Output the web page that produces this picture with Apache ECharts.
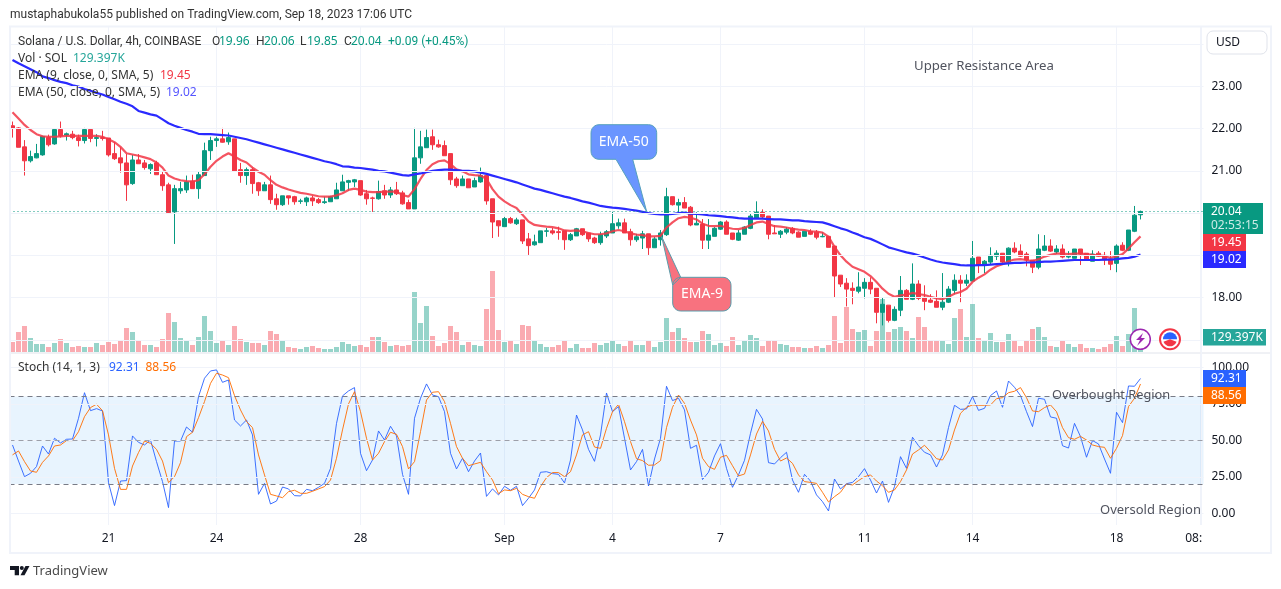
<!DOCTYPE html>
<html lang="en">
<head>
    <meta charset="UTF-8">
    <title>Solana / U.S. Dollar, 4h, COINBASE</title>
    <script src="https://cdn.jsdelivr.net/npm/echarts@6/dist/echarts.min.js"></script>
    <style>
        html, body { margin: 0; padding: 0; background: #fff; }
        #chart { width: 1281px; height: 589px; }
    </style>
</head>
<body>
    <div id="chart"></div>

    <script>
        // 4h candles
        const opens = [22.07,22.02,21.57,21.24,21.31,21.38,21.79,21.64,21.98,21.85,21.87,21.79,21.72,21.98,21.77,21.79,21.78,21.41,21.31,21.19,20.70,21.26,21.19,21.05,21.19,20.91,20.67,20.03,20.53,20.55,20.76,20.58,20.89,21.48,21.72,21.76,21.69,21.76,21.03,20.89,21.03,20.72,20.53,20.67,20.34,20.20,20.41,20.39,20.28,20.27,20.36,20.32,20.25,20.27,20.34,20.53,20.73,20.74,20.77,20.46,20.36,20.34,20.53,20.43,20.55,20.48,20.25,20.10,21.31,21.55,21.81,21.62,21.60,21.41,20.81,20.65,20.81,20.62,20.74,20.89,20.34,19.82,19.68,19.87,19.75,19.84,19.39,19.25,19.30,19.57,19.58,19.56,19.58,19.37,19.46,19.63,19.53,19.41,19.30,19.46,19.53,19.70,19.77,19.56,19.37,19.41,19.51,19.18,19.37,19.49,20.39,20.19,20.25,20.14,19.72,19.74,19.36,19.45,19.62,19.79,19.53,19.36,19.50,19.64,19.88,20.02,19.93,19.53,19.50,19.55,19.64,19.55,19.45,19.57,19.55,19.44,19.45,19.22,18.53,18.34,18.22,18.15,18.22,18.36,18.22,17.65,17.82,17.46,17.70,18.17,17.96,18.32,18.01,17.94,17.91,17.77,17.89,18.17,18.41,18.34,18.39,18.96,18.77,18.84,18.98,19.05,18.84,19.17,19.10,19.03,18.89,18.72,19.12,19.22,19.08,19.15,18.96,18.93,19.15,19.05,18.86,19.05,19.00,18.91,18.81,19.24,19.12,19.57,19.96];
        const closes = [22.01,21.56,21.24,21.34,21.41,21.82,21.62,21.98,21.83,21.88,21.79,21.72,21.98,21.77,21.79,21.77,21.38,21.29,21.19,20.67,21.26,21.17,21.08,21.15,20.91,20.65,20.01,20.58,20.58,20.74,20.58,20.91,21.48,21.72,21.76,21.68,21.79,21.00,20.89,21.03,20.70,20.53,20.67,20.32,20.20,20.41,20.36,20.27,20.29,20.36,20.29,20.25,20.27,20.39,20.55,20.74,20.77,20.79,20.43,20.34,20.35,20.51,20.43,20.55,20.46,20.22,20.10,21.31,21.57,21.79,21.62,21.57,21.36,20.79,20.65,20.81,20.60,20.77,20.89,20.29,19.79,19.70,19.87,19.77,19.84,19.34,19.23,19.32,19.58,19.58,19.53,19.54,19.37,19.49,19.63,19.49,19.39,19.30,19.49,19.56,19.75,19.77,19.53,19.37,19.44,19.51,19.18,19.39,19.53,20.39,20.20,20.25,20.12,19.72,19.76,19.36,19.48,19.64,19.79,19.50,19.38,19.53,19.67,19.93,20.02,19.91,19.50,19.51,19.57,19.62,19.53,19.43,19.57,19.50,19.43,19.45,19.19,18.51,18.32,18.20,18.17,18.25,18.36,18.20,17.65,17.84,17.46,17.72,18.17,17.96,18.32,17.98,17.91,17.89,17.77,17.89,18.20,18.41,18.34,18.41,18.93,18.77,18.86,19.00,19.05,18.84,19.17,19.08,18.98,18.89,18.72,19.15,19.22,19.10,19.15,18.96,18.98,19.15,19.03,18.89,19.03,18.98,18.89,18.79,19.22,19.12,19.60,19.95,20.04];
        const lows = [21.79,21.56,20.89,21.20,21.30,21.36,21.58,21.62,21.79,21.72,21.75,21.58,21.65,21.68,21.58,21.72,21.34,21.26,20.96,20.29,20.67,21.17,21.03,20.93,20.91,20.53,19.98,19.27,20.46,20.48,20.58,20.34,20.89,21.26,21.57,21.67,21.62,21.00,20.72,20.67,20.46,20.41,20.53,20.22,20.08,20.17,20.20,20.20,20.22,20.17,20.17,20.22,20.22,20.27,20.34,20.53,20.53,20.62,20.41,20.20,20.03,20.32,20.34,20.36,20.43,20.20,20.10,20.10,21.17,21.55,21.50,21.55,21.36,20.67,20.60,20.65,20.60,20.62,20.72,20.20,19.41,19.44,19.68,19.75,19.72,19.27,19.01,19.23,19.30,19.44,19.49,19.37,19.13,19.34,19.46,19.46,19.32,19.27,19.25,19.41,19.53,19.63,19.53,19.23,19.32,19.15,19.01,19.18,19.23,19.46,20.18,19.98,20.12,19.69,19.72,19.15,19.15,19.45,19.60,19.50,19.36,19.34,19.50,19.62,19.88,19.88,19.38,19.51,19.41,19.50,19.50,19.43,19.45,19.48,19.38,19.43,19.19,18.01,18.25,17.79,17.84,18.10,17.98,18.08,17.39,17.34,17.41,17.44,17.56,17.96,17.94,17.94,17.70,17.87,17.77,17.70,17.87,18.08,17.89,18.27,18.39,18.58,18.58,18.77,18.89,18.77,18.74,19.05,18.96,18.74,18.58,18.67,19.10,19.08,19.03,18.93,18.93,18.93,18.77,18.89,18.86,18.96,18.77,18.65,18.60,19.10,19.10,19.55,19.85];
        const highs = [22.17,22.04,21.73,21.48,21.64,21.83,21.86,21.98,22.17,21.91,21.95,21.86,22.02,21.98,21.87,21.95,21.78,21.68,21.56,21.40,21.38,21.40,21.26,21.18,21.24,21.00,20.72,20.67,20.74,20.89,20.91,20.98,21.67,21.81,21.81,22.02,21.91,21.76,21.19,21.08,21.08,20.74,20.74,20.89,20.46,20.41,20.41,20.41,20.34,20.39,20.41,20.36,20.39,20.41,20.72,20.91,20.79,20.81,20.77,20.55,20.39,20.77,20.67,20.62,20.74,20.53,20.32,22.02,21.95,21.98,21.98,21.74,21.72,21.41,20.86,20.89,20.81,20.84,21.08,20.89,20.34,19.82,19.91,19.91,19.89,19.84,19.53,19.49,19.58,19.65,19.65,19.68,19.58,19.53,19.65,19.63,19.53,19.44,19.56,19.60,20.03,19.87,19.87,19.63,19.51,19.58,19.51,19.44,19.60,20.60,20.39,20.34,20.38,20.17,20.02,19.86,19.86,19.67,19.81,19.83,19.53,19.60,19.69,20.00,20.28,20.09,19.93,19.72,19.60,19.67,19.67,19.57,19.57,19.62,19.60,19.55,19.45,19.22,18.53,18.46,18.36,18.60,18.46,18.48,18.22,18.01,17.82,17.79,18.51,18.20,18.81,18.41,18.29,18.08,18.17,18.58,18.27,18.55,18.53,18.55,19.34,18.96,18.89,19.19,19.12,19.05,19.19,19.31,19.26,19.08,18.89,19.50,19.48,19.38,19.24,19.26,19.10,19.15,19.15,19.05,19.12,19.10,19.08,19.10,19.26,19.31,19.60,20.17,20.06];

        const ema9 = [22.39,22.24,22.09,21.97,21.87,21.82,21.81,21.81,21.82,21.83,21.83,21.83,21.83,21.83,21.83,21.81,21.75,21.68,21.57,21.42,21.39,21.36,21.32,21.28,21.20,21.08,20.89,20.82,20.78,20.76,20.75,20.78,20.92,21.10,21.24,21.34,21.42,21.34,21.26,21.20,21.08,20.98,20.91,20.78,20.67,20.61,20.56,20.52,20.48,20.46,20.43,20.40,20.39,20.39,20.42,20.47,20.55,20.58,20.55,20.51,20.50,20.50,20.51,20.51,20.51,20.43,20.39,20.57,20.81,21.02,21.16,21.23,21.25,21.16,21.04,20.99,20.92,20.90,20.89,20.81,20.57,20.39,20.28,20.19,20.12,19.96,19.80,19.72,19.70,19.68,19.67,19.64,19.59,19.58,19.59,19.57,19.53,19.50,19.50,19.52,19.57,19.60,19.57,19.52,19.49,19.48,19.45,19.45,19.46,19.66,19.78,19.88,19.91,19.89,19.85,19.75,19.70,19.69,19.70,19.66,19.63,19.62,19.65,19.72,19.78,19.80,19.74,19.69,19.68,19.66,19.63,19.61,19.60,19.57,19.56,19.54,19.44,19.20,19.00,18.85,18.73,18.67,18.61,18.51,18.37,18.21,18.09,18.02,18.05,18.07,18.11,18.08,18.06,18.02,17.98,17.96,18.02,18.09,18.13,18.21,18.37,18.47,18.55,18.66,18.74,18.79,18.86,18.90,18.91,18.89,18.86,18.91,18.97,19.01,19.04,19.04,19.03,19.04,19.04,19.03,19.01,19.00,18.98,18.94,18.98,19.03,19.16,19.31,19.45];
        const ema50 = [23.63,23.55,23.48,23.41,23.34,23.24,23.20,23.15,23.11,23.08,23.03,23.00,22.94,22.90,22.85,22.81,22.75,22.70,22.64,22.59,22.53,22.42,22.38,22.34,22.31,22.22,22.13,22.07,22.02,21.97,21.93,21.88,21.87,21.87,21.86,21.85,21.84,21.81,21.78,21.75,21.71,21.67,21.63,21.59,21.55,21.51,21.47,21.43,21.39,21.35,21.31,21.27,21.23,21.20,21.16,21.11,21.10,21.08,21.07,21.05,21.03,21.00,20.99,20.96,20.93,20.90,20.89,20.92,20.94,20.97,21.00,21.02,21.03,21.03,21.02,21.00,21.00,20.99,20.96,20.93,20.89,20.85,20.81,20.77,20.73,20.68,20.63,20.58,20.55,20.51,20.47,20.43,20.39,20.36,20.32,20.28,20.25,20.21,20.17,20.15,20.13,20.12,20.10,20.08,20.06,20.03,20.00,19.98,19.97,19.97,19.98,20.00,20.01,19.99,19.98,19.97,19.95,19.94,19.93,19.91,19.90,19.88,19.87,19.87,19.87,19.87,19.86,19.85,19.85,19.84,19.83,19.83,19.81,19.80,19.79,19.78,19.74,19.69,19.64,19.60,19.54,19.49,19.43,19.39,19.33,19.26,19.19,19.15,19.11,19.07,19.04,19.00,18.95,18.90,18.86,18.83,18.81,18.79,18.77,18.76,18.76,18.77,18.77,18.78,18.79,18.80,18.81,18.82,18.82,18.83,18.83,18.84,18.85,18.85,18.86,18.87,18.88,18.89,18.89,18.89,18.89,18.89,18.90,18.90,18.91,18.93,18.94,18.97,19.02];

        // volume in thousands of SOL
        const volumes = [500,1000,1300,700,400,400,250,450,650,450,250,300,250,250,450,350,500,400,550,1200,1000,600,350,350,250,650,1950,1500,700,600,350,750,1800,1050,450,600,350,1300,650,500,450,450,350,1050,900,550,250,200,150,250,300,200,150,150,250,500,400,300,350,250,750,750,500,300,350,300,350,3000,1450,2300,800,300,450,1300,1000,350,500,350,300,2150,4050,1100,500,550,400,1350,1300,600,400,250,250,350,550,200,400,200,200,450,350,450,600,400,300,550,350,350,550,250,500,1700,1000,1200,700,500,500,1050,900,350,450,300,750,350,600,850,700,300,600,550,400,350,250,250,200,200,300,200,350,1800,450,2250,1150,1000,1100,300,1050,2650,1000,1150,1250,1050,700,1750,1250,550,550,600,400,1700,2150,750,2400,700,600,950,500,500,900,600,300,600,1150,1250,750,300,250,600,400,250,400,200,200,150,250,400,800,300,900,2200,129.397];

        // stochastic %K and %D
        const stochK = [46.8,35.8,25.1,27.4,32.0,46.1,40.6,51.4,48.2,50.7,50.9,65.1,82.6,70.3,71.7,70.1,21.0,5.3,22.1,22.4,53.0,48.6,46.8,50.2,35.4,21.7,3.9,49.5,49.5,59.1,55.5,79.9,92.5,97.5,98.2,89.7,91.3,63.9,59.8,63.9,53.7,13.0,20.5,6.4,8.4,18.0,16.7,12.1,11.9,16.4,15.5,17.8,20.5,30.8,61.6,80.4,83.8,86.1,41.1,29.2,36.5,56.4,50.2,59.6,53.0,26.7,13.0,65.1,78.8,88.6,81.0,79.9,69.6,41.1,30.4,37.7,28.5,35.8,41.3,11.6,16.7,12.6,18.5,15.8,18.5,5.3,10.3,16.0,28.1,28.5,27.2,26.7,20.8,36.5,67.3,57.1,43.8,35.6,53.7,82.4,69.6,73.1,51.4,29.7,35.4,43.8,18.7,37.2,51.4,87.0,77.2,78.8,70.8,44.5,46.6,23.1,28.1,39.3,47.7,30.8,17.8,26.3,36.3,54.8,71.2,64.6,34.7,33.8,38.1,41.8,22.8,14.4,26.7,22.1,12.6,8.0,1.6,23.5,16.7,20.3,21.2,25.1,30.6,22.8,13.9,22.1,7.5,18.3,38.8,30.8,52.1,46.3,41.8,40.0,31.7,40.0,58.7,74.0,71.2,71.5,79.9,70.5,71.9,80.6,83.8,72.6,90.6,86.3,80.6,69.6,59.4,78.8,78.1,66.0,65.1,46.3,44.7,61.6,52.5,38.4,49.8,47.5,37.2,27.4,69.2,62.1,87.2,87.0,92.31];
        const stochD = [40.0,42.7,35.4,29.0,28.1,34.9,39.3,46.1,46.8,49.8,49.8,55.9,66.2,72.4,74.7,70.3,53.7,30.8,16.4,16.4,32.4,41.6,49.5,47.9,43.8,35.8,21.0,25.1,34.7,52.5,55.5,65.5,76.5,89.0,95.9,94.7,92.9,80.6,70.8,62.8,58.7,40.0,26.3,13.0,11.9,10.7,14.8,15.8,13.7,13.7,15.1,16.7,18.3,22.8,37.7,57.1,74.9,83.3,69.6,51.4,36.5,41.1,49.1,55.5,54.1,45.7,30.4,35.4,55.9,77.6,82.9,83.3,76.5,61.6,45.7,37.7,32.6,33.8,34.9,28.5,22.8,13.5,16.0,15.5,17.1,13.0,11.4,10.3,18.3,24.4,27.9,27.9,25.1,28.5,40.0,53.7,55.9,45.4,44.5,58.2,69.6,74.7,62.8,49.1,37.4,36.1,32.9,33.1,36.1,58.7,72.6,81.0,75.3,63.9,53.7,37.7,32.0,30.1,38.4,39.7,32.6,25.6,26.9,40.0,54.3,63.0,56.4,43.8,35.8,37.9,34.2,26.3,21.7,21.2,20.5,14.4,7.8,11.4,14.4,20.1,19.4,22.4,25.1,26.3,22.1,18.9,14.4,16.0,21.7,29.7,40.6,43.4,46.6,42.2,37.4,36.5,43.4,57.1,68.5,72.6,74.2,74.0,74.0,74.2,78.5,79.2,82.6,83.6,86.1,79.2,70.1,69.6,72.4,74.2,69.6,58.7,51.8,50.7,52.7,50.2,46.8,45.7,45.2,37.7,44.5,53.2,73.1,78.8,88.56];

        // time axis: label text at each bar slot (slots run past the last candle)
        const slotCount = 199;
        const tickSlots = [16, 34, 58, 82, 100, 118, 142, 160, 184, 198];
        const tickTexts = ['21', '24', '28', 'Sep', '4', '7', '11', '14', '18', '08:00'];
        const priceTicks = [17, 18, 19, 20, 21, 22, 23, 24];
        const stochTicks = [0, 25, 50, 75, 100];

        const FONT = '"Noto Sans", sans-serif';
        const NARROW = '12px Roboto, sans-serif';
        const GREEN = '#089981', RED = '#f23645', GRID = '#f0f3fa';
        const categories = Array.from({ length: slotCount }, (_, i) => {
            const k = tickSlots.indexOf(i);
            return k >= 0 ? tickTexts[k] : '';
        });
        const isTick = i => tickSlots.includes(i);

        function label(x, y, text, color, size, extra) {
            return Object.assign({
                type: 'text', x, y, z: 20,
                style: Object.assign({ text, fill: color, font: (size || 12) + 'px ' + FONT, verticalAlign: 'middle' }, extra || {})
            });
        }

        function tag(x, y, w, h, color, lines) {
            const items = [{ type: 'rect', z: 15, shape: { x, y, width: w, height: h }, style: { fill: color } }];
            lines.forEach((t, i) => items.push(label(x + 8, y + 8.5 + i * 14.5, t[0], t[1] || '#fff', 12)));
            return items;
        }

        // rounded box with a pointed tail, as one outline
        function callout(x, y, w, h, r, tail, fill, stroke) {
            const pts = [];
            const corner = (cx, cy, a0) => {
                for (let k = 0; k <= 6; k++) {
                    const a = a0 + k / 6 * Math.PI / 2;
                    pts.push([cx + r * Math.cos(a), cy + r * Math.sin(a)]);
                }
            };
            corner(x + r, y + r, Math.PI);
            if (tail.side === 'top') tail.pts.forEach(p => pts.push(p));
            corner(x + w - r, y + r, -Math.PI / 2);
            corner(x + w - r, y + h - r, 0);
            if (tail.side === 'bottom') tail.pts.forEach(p => pts.push(p));
            corner(x + r, y + h - r, Math.PI / 2);
            return { type: 'polygon', z: 12, shape: { points: pts }, style: { fill, stroke, lineWidth: 1 } };
        }

        const frameParts = [
            { type: 'rect', z: 2, shape: { x: 1202, y: 526, width: 68, height: 26 }, style: { fill: '#fff' } },
            { type: 'line', z: 3, shape: { x1: 10, y1: 353, x2: 1271, y2: 353 }, style: { stroke: '#e0e3eb', lineWidth: 1 } },
            { type: 'line', z: 3, shape: { x1: 1201.5, y1: 27, x2: 1201.5, y2: 525 }, style: { stroke: GRID, lineWidth: 1 } },
            { type: 'rect', z: 9, shape: { x: 10, y: 26.5, width: 1261, height: 526.5 }, style: { fill: 'none', stroke: GRID, lineWidth: 2 } }
        ];

        const roboto = { font: NARROW };
        const legendParts = [
            label(10, 15, 'mustaphabukola55 published on TradingView.com, Sep 18, 2023 17:06 UTC', '#333', 12, roboto),
            label(18, 42, 'Solana / U.S. Dollar, 4h, COINBASE', '#333', 12, roboto),
            label(212, 42, 'O', '#333', 12, roboto), label(219, 42, '19.96', GREEN),
            label(256, 42, 'H', '#333', 12, roboto), label(264, 42, '20.06', GREEN),
            label(300, 42, 'L', '#333', 12, roboto), label(307, 42, '19.85', GREEN),
            label(344, 42, 'C', '#333', 12, roboto), label(351, 42, '20.04', GREEN),
            label(388, 42, '+0.09 (+0.45%)', GREEN, 12, roboto),
            label(18, 59, 'Vol · SOL', '#333'), label(73, 59, '129.397K', '#26a69a'),
            label(18, 76, 'EMA (9, close, 0, SMA, 5)', '#333'), label(160, 76, '19.45', RED),
            label(18, 92.5, 'EMA (50, close, 0, SMA, 5)', '#333'), label(166, 92.5, '19.02', '#5555ff'),
            label(18, 367.5, 'Stoch (14, 1, 3)', '#333'), label(109, 367.5, '92.31', '#2962ff'), label(145.5, 367.5, '88.56', '#ff6d00'),
            label(914, 66, 'Upper Resistance Area', '#50535e', 13.2),
            label(1052, 395, 'Overbought Region', '#50535e', 12.8),
            label(1100, 510, 'Oversold Region', '#50535e', 13)
        ];

        const calloutParts = [
            callout(591, 124.7, 65.7, 34.6, 8, { side: 'bottom', pts: [[632.7, 159.3], [646.7, 211.7], [616, 159.3]] }, '#6a95ff', '#55a0bd'),
            label(623.8, 142, 'EMA-50', '#fff', 14, { align: 'center' }),
            callout(672.7, 277.3, 58.3, 33.7, 8, { side: 'top', pts: [[672.7, 285], [661.7, 236.7], [680.7, 277.3]] }, '#f8727f', '#5a9cab'),
            label(702, 294, 'EMA-9', '#fff', 14, { align: 'center' })
        ];

        const axisParts = [
            { type: 'rect', z: 14, shape: { x: 1207, y: 31, width: 60, height: 23, r: 6 }, style: { fill: '#fff', stroke: '#e0e3eb', lineWidth: 1 } },
            label(1216, 43, 'USD', '#131722')
        ].concat(
            tag(1203, 203, 60, 31, GREEN, [['20.04'], ['02:53:15', 'rgba(255,255,255,.8)']]),
            tag(1203, 234, 43, 17, RED, [['19.45']]),
            tag(1203, 251, 43, 17, '#2a2aff', [['19.02']]),
            tag(1203, 329, 63, 16.5, '#26a69a', [['129.397K']]),
            tag(1203, 370, 43, 17, '#2962ff', [['92.31']]),
            tag(1203, 387, 43, 17, '#ff6d00', [['88.56']])
        );

        const iconParts = [
            { type: 'circle', z: 13, shape: { cx: 1140.3, cy: 339.3, r: 10 }, style: { fill: '#fff', stroke: '#9c27b0', lineWidth: 1.5 } },
            { type: 'polygon', z: 14, shape: { points: [[1143, 333], [1136, 340], [1140, 340], [1137, 346], [1145, 338], [1141, 338]] }, style: { fill: '#9c27b0' } },
            { type: 'circle', z: 13, shape: { cx: 1170, cy: 339.3, r: 10 }, style: { fill: '#fff', stroke: RED, lineWidth: 2 } },
            { type: 'sector', z: 14, shape: { cx: 1170, cy: 339.3, r: 7, r0: 0, startAngle: Math.PI, endAngle: 2 * Math.PI }, style: { fill: '#2962ff' } },
            { type: 'sector', z: 14, shape: { cx: 1170, cy: 339.3, r: 7, r0: 0, startAngle: 0.35, endAngle: Math.PI - 0.35 }, style: { fill: RED } }
        ];

        const logoParts = [
            { type: 'polygon', z: 20, shape: { points: [[10, 566], [19, 566], [19, 575.3], [14.7, 575.3], [14.7, 570], [10, 570]] }, style: { fill: '#131722' } },
            { type: 'circle', z: 20, shape: { cx: 21.8, cy: 568, r: 2 }, style: { fill: '#131722' } },
            { type: 'polygon', z: 20, shape: { points: [[25.5, 566], [29.5, 566], [24.5, 575.3], [20.5, 575.3]] }, style: { fill: '#131722' } },
            label(33, 571, 'TradingView', '#4a4a4a', 13)
        ];

        function timeAxis(gridIndex, showLabel) {
            return {
                type: 'category', gridIndex, data: categories, z: 1,
                axisLine: { show: false }, axisTick: { show: false },
                axisLabel: {
                    show: showLabel, interval: (i) => isTick(i), margin: 8,
                    color: '#131722', fontFamily: FONT, fontSize: 12, hideOverlap: false
                },
                splitLine: { show: showLabel !== null, interval: (i) => isTick(i), alignWithLabel: true, lineStyle: { color: GRID } }
            };
        }

        function valueLabels(ticks) {
            return {
                customValues: ticks, margin: 8, color: '#131722', fontFamily: FONT, fontSize: 12,
                formatter: v => v.toFixed(2)
            };
        }

        const option = {
            animation: false,
            backgroundColor: '#fff',
            grid: [
                { left: 9.5, right: 77.5, top: 27, height: 325 },
                { left: 9.5, right: 77.5, top: 27, height: 325 },
                { left: 9.5, right: 77.5, top: 354, height: 171 }
            ],
            xAxis: [timeAxis(0, false), timeAxis(1, false), timeAxis(2, true)],
            yAxis: [
                {
                    type: 'value', gridIndex: 0, position: 'right', min: 16.71, max: 24.41, z: 5,
                    axisLine: { show: false }, axisTick: { show: false, customValues: priceTicks },
                    axisLabel: valueLabels(priceTicks),
                    splitLine: { show: true, lineStyle: { color: GRID } }
                },
                { type: 'value', gridIndex: 1, min: 0, max: 16250, show: false },
                {
                    type: 'value', gridIndex: 2, position: 'right', min: -8, max: 109.1, z: 5,
                    axisLine: { show: false }, axisTick: { show: false, customValues: stochTicks },
                    axisLabel: valueLabels(stochTicks),
                    splitLine: { show: true, lineStyle: { color: GRID } }
                }
            ],
            series: [
                {
                    name: 'Vol', type: 'bar', xAxisIndex: 1, yAxisIndex: 1, z: 1, barWidth: 5, data: volumes,
                    itemStyle: { color: p => closes[p.dataIndex] >= opens[p.dataIndex] ? 'rgba(8,153,129,.42)' : 'rgba(242,54,69,.42)' }
                },
                {
                    name: 'SOLUSD', type: 'candlestick', xAxisIndex: 0, yAxisIndex: 0, z: 3, barWidth: 4,
                    data: opens.map((o, i) => [o, closes[i], lows[i], highs[i]]),
                    itemStyle: { color: GREEN, color0: RED, borderColor: GREEN, borderColor0: RED, borderWidth: 1 },
                    markLine: {
                        silent: true, symbol: 'none', label: { show: false },
                        lineStyle: { color: GREEN, type: [1, 3], width: 1, opacity: 1 }, data: [{ yAxis: closes[closes.length - 1] }]
                    }
                },
                {
                    name: 'EMA 9', type: 'line', xAxisIndex: 0, yAxisIndex: 0, z: 4, data: ema9, symbol: 'none',
                    lineStyle: { color: RED, width: 2.2, opacity: 0.85 }
                },
                {
                    name: 'EMA 50', type: 'line', xAxisIndex: 0, yAxisIndex: 0, z: 4, data: ema50, symbol: 'none',
                    lineStyle: { color: '#2a2aff', width: 2.2, opacity: 1 }
                },
                {
                    name: '%K', type: 'line', xAxisIndex: 2, yAxisIndex: 2, z: 4, data: stochK, symbol: 'none',
                    lineStyle: { color: '#2962ff', width: 1, opacity: 0.9 },
                    markArea: {
                        silent: true, itemStyle: { color: 'rgba(33,150,243,.1)' },
                        data: [[{ yAxis: 80 }, { yAxis: 20 }]]
                    },
                    markLine: {
                        silent: true, symbol: 'none', label: { show: false },
                        lineStyle: { color: '#787b86', type: [5, 4], width: 1 },
                        data: [{ yAxis: 80 }, { yAxis: 50, lineStyle: { color: 'rgba(120,123,134,.7)' } }, { yAxis: 20 }]
                    }
                },
                {
                    name: '%D', type: 'line', xAxisIndex: 2, yAxisIndex: 2, z: 4, data: stochD, symbol: 'none',
                    lineStyle: { color: '#ff6d00', width: 1, opacity: 0.9 }
                }
            ],
            graphic: { elements: frameParts.concat(legendParts, calloutParts, axisParts, iconParts, logoParts) }
        };

        const myChart = echarts.init(document.getElementById('chart'));
        myChart.setOption(option);
        window.addEventListener('resize', () => myChart.resize());
    </script>
</body>
</html>
